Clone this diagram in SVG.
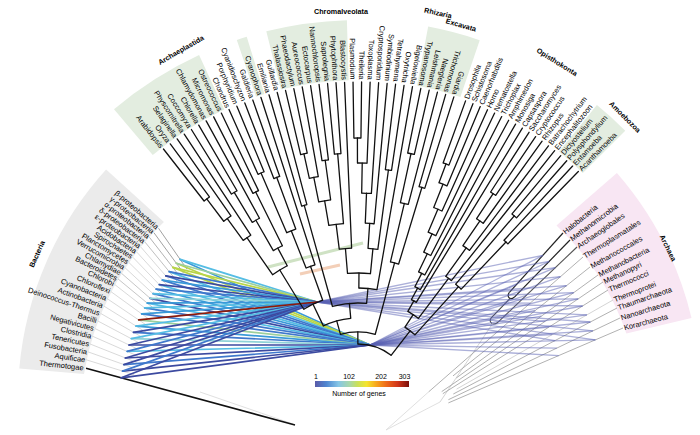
<svg xmlns="http://www.w3.org/2000/svg" width="700" height="435" viewBox="0 0 700 435">
<defs>
<style>
text{font-family:"Liberation Sans",Arial,sans-serif;font-size:7.5px;fill:#000}
.grp{font-weight:bold;font-size:7.2px;text-anchor:middle}
.te{text-anchor:end}
.tree line{stroke:#111;stroke-width:1.3;stroke-linecap:round}
.tree circle{fill:none;stroke:#111;stroke-width:1.3}
.shg{fill:none;stroke:#e3ede0;stroke-width:60}
.bl line{stroke:#cfcfcf;stroke-width:0.8}
.al line{stroke:#a8a8a8;stroke-width:0.9}
.ar line{stroke:#5a62b3;stroke-opacity:0.5;stroke-width:1.3}
.bc line{stroke-width:1.7;stroke-linecap:round}
</style>
<linearGradient id="cb" x1="0" y1="0" x2="1" y2="0">
<stop offset="0" stop-color="#5a5aa8"/><stop offset="0.12" stop-color="#4f86d0"/><stop offset="0.25" stop-color="#86c6e6"/><stop offset="0.37" stop-color="#a8d8a8"/><stop offset="0.45" stop-color="#c9e05a"/><stop offset="0.55" stop-color="#f5e52e"/><stop offset="0.65" stop-color="#f7a81e"/><stop offset="0.76" stop-color="#ee6a1a"/><stop offset="0.88" stop-color="#d1361a"/><stop offset="1" stop-color="#7a0f0a"/>
</linearGradient>
</defs>
<rect width="700" height="435" fill="#fff"/>

<g id="shading">
<path d="M163.9,222 L106.1,169.6 A340 340 0 0 0 19.3,368.4 L84,374 A270 270 0 0 1 163.9,222 Z" fill="#ebebeb"/>
<path d="M556.5,225.4 L616.9,173 A343 343 0 0 1 691.5,317.9 L626.4,333.6 A270 270 0 0 0 556.5,225.4 Z" fill="#f8e6f3"/>
<g transform="translate(358 398)" class="shg">
<circle r="348" stroke-dasharray="93.17 3000" transform="rotate(-130.2)"/>
<circle r="348" stroke-dasharray="9.72 3000" transform="rotate(-108.7)"/>
<circle r="348" stroke-dasharray="75.13 3000" transform="rotate(-104.04)"/>
<circle r="348" stroke-dasharray="49.2 3000" transform="rotate(-79.3)"/>
<circle r="348" stroke-dasharray="35.23 3000" transform="rotate(-50.8)"/>
</g>
</g>

<g id="bacteria-tree" class="bl">
<line x1="158.5" y1="228.2" x2="187" y2="269.3" style="stroke:#8a8a8a"/>
<line x1="153.9" y1="232.7" x2="183.5" y2="273" style="stroke:#8a8a8a"/>
<line x1="149.5" y1="237.4" x2="180.2" y2="276.9" style="stroke:#a0a0a0"/>
<line x1="145.1" y1="242.2" x2="176.8" y2="280.9" style="stroke:#b0b0b0"/>
<line x1="140.9" y1="247.1" x2="173.6" y2="284.9"/>
<line x1="136.8" y1="252.1" x2="170.6" y2="289"/>
<line x1="132.9" y1="257.3" x2="167.7" y2="293.3"/>
<line x1="129" y1="262.6" x2="164.8" y2="297.6"/>
<line x1="125.2" y1="267.9" x2="161.9" y2="301.9"/>
<line x1="121.5" y1="273.3" x2="159.2" y2="306.2" style="stroke:#b8b8b8"/>
<line x1="118" y1="278.9" x2="156.6" y2="310.8" style="stroke:#b8b8b8"/>
<line x1="114.7" y1="284.5" x2="154.2" y2="315.3"/>
<line x1="110.9" y1="291.6" x2="151.4" y2="320.9"/>
<line x1="107.2" y1="298.7" x2="148.7" y2="326.6"/>
<line x1="103.8" y1="306" x2="146.3" y2="332.4"/>
<line x1="100.6" y1="313.4" x2="144" y2="338.3"/>
<line x1="97.7" y1="320.9" x2="141.9" y2="344.3"/>
<line x1="94.9" y1="328.5" x2="139.9" y2="350.2"/>
<line x1="92.4" y1="336.2" x2="138.2" y2="356.3"/>
<line x1="90.1" y1="344" x2="136.6" y2="362.4"/>
<line x1="88.1" y1="351.9" x2="135.3" y2="368.6"/>
<line x1="86.3" y1="359.8" x2="134.1" y2="374.7"/>
<line x1="200" y1="392" x2="293" y2="424" style="stroke:#d8d8d8"/>
<line x1="86" y1="368.2" x2="295" y2="425" style="stroke:#111;stroke-width:1.6"/>
</g>

<g id="archaea-tree" class="al">
<line x1="563" y1="233" x2="509.4" y2="292.4" style="stroke:#222;stroke-width:1.2"/>
<line x1="570" y1="240" x2="514.2" y2="297.3" style="stroke:#222;stroke-width:1.2"/>
<path d="M509.4,292.4 C506.5,296 509.5,301 514.2,297.3" fill="none" stroke="#222" stroke-width="1.2"/>
<line x1="510.5" y1="298" x2="491.2" y2="317.8" style="stroke:#444;stroke-width:1.1"/>
<line x1="577" y1="247" x2="498.1" y2="322.2" style="stroke:#555;stroke-width:1.1"/>
<path d="M491.2,317.8 C488.5,322 492.5,326.5 498.1,322.2" fill="none" stroke="#555" stroke-width="1.1"/>
<line x1="493" y1="323" x2="440" y2="402" style="stroke:#cfcfcf"/>
<line x1="583" y1="257" x2="428.6" y2="391.9"/>
<line x1="590" y1="267" x2="453" y2="375.9"/>
<line x1="598" y1="275" x2="456.4" y2="377.9"/>
<line x1="603" y1="282" x2="441.7" y2="391.6"/>
<line x1="608" y1="290" x2="442.8" y2="393.7"/>
<line x1="613" y1="300" x2="456.6" y2="389.1" style="stroke:#cfcfcf"/>
<line x1="617" y1="308" x2="453.3" y2="394"/>
<line x1="620" y1="318" x2="448.4" y2="399.7"/>
<line x1="623" y1="328" x2="448.4" y2="402.9"/>
<line x1="440" y1="402" x2="386" y2="430" style="stroke:#dcdcdc"/>
<line x1="428.6" y1="391.9" x2="386" y2="430" style="stroke:#dcdcdc"/>
</g>

<g id="transfer-bars">
<line x1="268" y1="267" x2="363" y2="243" stroke="#cfe2c4" stroke-width="3"/>
<line x1="300" y1="274" x2="340" y2="265" stroke="#f3cfb8" stroke-width="3"/>
</g>

<g id="connectors">
<g id="archaea-links" class="ar">
<line x1="542.9" y1="255.3" x2="370" y2="345"/><line x1="542.9" y1="255.3" x2="317" y2="302"/>
<line x1="549.1" y1="261.5" x2="370" y2="345"/><line x1="549.1" y1="261.5" x2="317" y2="302"/>
<line x1="555.3" y1="267.7" x2="370" y2="345"/><line x1="555.3" y1="267.7" x2="317" y2="302"/>
<line x1="560.4" y1="276.7" x2="370" y2="345"/><line x1="560.4" y1="276.7" x2="317" y2="302"/>
<line x1="566.5" y1="285.7" x2="370" y2="345"/><line x1="566.5" y1="285.7" x2="317" y2="302"/>
<line x1="573.7" y1="292.6" x2="370" y2="345"/><line x1="573.7" y1="292.6" x2="317" y2="302"/>
<line x1="578.2" y1="298.9" x2="370" y2="345"/><line x1="578.2" y1="298.9" x2="317" y2="302"/>
<line x1="582.6" y1="306" x2="370" y2="345"/><line x1="582.6" y1="306" x2="317" y2="302"/>
<line x1="586.9" y1="314.9" x2="370" y2="345"/><line x1="586.9" y1="314.9" x2="317" y2="302"/>
<line x1="590.4" y1="322" x2="370" y2="345"/><line x1="590.4" y1="322" x2="317" y2="302"/>
<line x1="592.9" y1="330.9" x2="370" y2="345"/><line x1="592.9" y1="330.9" x2="317" y2="302"/>
<line x1="595.4" y1="339.8" x2="370" y2="345"/><line x1="595.4" y1="339.8" x2="317" y2="302"/>
<line x1="516.1" y1="284.9" x2="370" y2="345"/><line x1="521.1" y1="290.1" x2="317" y2="302"/>
<line x1="526.3" y1="295.3" x2="370" y2="345"/><line x1="530.3" y1="303.1" x2="317" y2="302"/>
<line x1="535.2" y1="310.5" x2="370" y2="345"/><line x1="541.4" y1="316.2" x2="370" y2="345"/>
<line x1="545.1" y1="321.3" x2="317" y2="302"/><line x1="548.7" y1="327.2" x2="370" y2="345"/>
<line x1="552.2" y1="334.7" x2="370" y2="345"/><line x1="555" y1="340.6" x2="317" y2="302"/>
<line x1="556.8" y1="348.1" x2="370" y2="345"/><line x1="558.7" y1="355.6" x2="370" y2="345"/>
</g>
<g id="bacteria-links" class="bc">
<line x1="180.2" y1="259.4" x2="370" y2="345" stroke="#3a9ad8"/>
<line x1="176.4" y1="263.3" x2="370" y2="345" stroke="#b9d548"/>
<line x1="172.8" y1="267.4" x2="370" y2="345" stroke="#b9d548"/>
<line x1="169.2" y1="271.6" x2="370" y2="345" stroke="#55bde4"/>
<line x1="165.8" y1="275.8" x2="370" y2="345" stroke="#3f78cc"/>
<line x1="162.4" y1="280.1" x2="370" y2="345" stroke="#3f78cc"/>
<line x1="159.3" y1="284.6" x2="370" y2="345" stroke="#55bde4"/>
<line x1="156.2" y1="289.2" x2="370" y2="345" stroke="#3a9ad8"/>
<line x1="153.1" y1="293.7" x2="370" y2="345" stroke="#3f78cc"/>
<line x1="150.1" y1="298.3" x2="370" y2="345" stroke="#3c4aa0"/>
<line x1="147.3" y1="303.1" x2="370" y2="345" stroke="#55bde4"/>
<line x1="144.7" y1="307.9" x2="370" y2="345" stroke="#3f78cc"/>
<line x1="141.7" y1="313.9" x2="370" y2="345" stroke="#3f78cc"/>
<line x1="138.7" y1="319.9" x2="370" y2="345" stroke="#9ccf9c"/>
<line x1="136.1" y1="326.1" x2="370" y2="345" stroke="#3a9ad8"/>
<line x1="133.5" y1="332.3" x2="370" y2="345" stroke="#3f78cc"/>
<line x1="131.3" y1="338.6" x2="370" y2="345" stroke="#8fd2d8"/>
<line x1="129.1" y1="345" x2="370" y2="345" stroke="#3c4aa0"/>
<line x1="127.2" y1="351.4" x2="370" y2="345" stroke="#55bde4"/>
<line x1="125.4" y1="358" x2="370" y2="345" stroke="#3c4aa0"/>
<line x1="123.9" y1="364.6" x2="370" y2="345" stroke="#3f78cc"/>
<line x1="122.6" y1="371.1" x2="370" y2="345" stroke="#3c4aa0"/>
<line x1="121.3" y1="377.8" x2="370" y2="345" stroke="#3c4aa0"/>
<line x1="180.2" y1="259.4" x2="317" y2="302" stroke="#55bde4"/>
<line x1="176.4" y1="263.3" x2="317" y2="302" stroke="#9ccf9c"/>
<line x1="172.8" y1="267.4" x2="317" y2="302" stroke="#b9d548"/>
<line x1="169.2" y1="271.6" x2="317" y2="302" stroke="#3f78cc"/>
<line x1="165.8" y1="275.8" x2="317" y2="302" stroke="#3c4aa0"/>
<line x1="162.4" y1="280.1" x2="317" y2="302" stroke="#3a9ad8"/>
<line x1="159.3" y1="284.6" x2="317" y2="302" stroke="#3c4aa0"/>
<line x1="156.2" y1="289.2" x2="317" y2="302" stroke="#3f78cc"/>
<line x1="153.1" y1="293.7" x2="317" y2="302" stroke="#55bde4"/>
<line x1="150.1" y1="298.3" x2="317" y2="302" stroke="#8fd2d8"/>
<line x1="147.3" y1="303.1" x2="317" y2="302" stroke="#3a9ad8"/>
<line x1="144.7" y1="307.9" x2="317" y2="302" stroke="#55bde4"/>
<line x1="141.7" y1="313.9" x2="317" y2="302" stroke="#3a9ad8"/>
<line x1="136.1" y1="326.1" x2="317" y2="302" stroke="#55bde4"/>
<line x1="133.5" y1="332.3" x2="317" y2="302" stroke="#3c4aa0"/>
<line x1="131.3" y1="338.6" x2="317" y2="302" stroke="#55bde4"/>
<line x1="129.1" y1="345" x2="317" y2="302" stroke="#3c4aa0"/>
<line x1="127.2" y1="351.4" x2="317" y2="302" stroke="#3f78cc"/>
<line x1="125.4" y1="358" x2="317" y2="302" stroke="#3c4aa0"/>
<line x1="123.9" y1="364.6" x2="317" y2="302" stroke="#3c4aa0"/>
<line x1="122.6" y1="371.1" x2="317" y2="302" stroke="#3f78cc"/>
<line x1="121.3" y1="377.8" x2="317" y2="302" stroke="#3c4aa0"/>
<line x1="138.7" y1="319.9" x2="317" y2="302" stroke="#8b1a0c" stroke-width="2"/>
</g>
</g>

<g id="eukaryotes" class="tree" transform="translate(358 398)">
<g id="euk-internal">
<line x1="222" x2="250" transform="rotate(-127.23)"/>
<line x1="195" x2="222" transform="rotate(-126.07)"/>
<line x1="150" x2="195" transform="rotate(-124.72)"/>
<line x1="205" x2="240" transform="rotate(-121.05)"/>
<line x1="170" x2="205" transform="rotate(-119.88)"/>
<line x1="170" x2="230" transform="rotate(-116.41)"/>
<line x1="150" x2="170" transform="rotate(-118.15)"/>
<line x1="104" x2="150" transform="rotate(-121.44)"/>
<line x1="180" x2="245" transform="rotate(-113.32)"/>
<line x1="180" x2="235" transform="rotate(-110.22)"/>
<line x1="140" x2="180" transform="rotate(-111.77)"/>
<line x1="104" x2="140" transform="rotate(-109.84)"/>
<line x1="80" x2="104" transform="rotate(-115.64)"/>
<line x1="95" x2="200" transform="rotate(-105.59)"/>
<line x1="225" x2="250" transform="rotate(-102.49)"/>
<line x1="200" x2="225" transform="rotate(-101.33)"/>
<line x1="200" x2="240" transform="rotate(-97.86)"/>
<line x1="175" x2="200" transform="rotate(-99.6)"/>
<line x1="175" x2="245" transform="rotate(-94.76)"/>
<line x1="150" x2="175" transform="rotate(-97.18)"/>
<line x1="125" x2="150" transform="rotate(-94.81)"/>
<line x1="235" x2="260" transform="rotate(-90.13)"/>
<line x1="205" x2="235" transform="rotate(-88.97)"/>
<line x1="175" x2="205" transform="rotate(-87.62)"/>
<line x1="150" x2="230" transform="rotate(-82.4)"/>
<line x1="150" x2="175" transform="rotate(-86.17)"/>
<line x1="125" x2="150" transform="rotate(-84.29)"/>
<line x1="110" x2="125" transform="rotate(-89.55)"/>
<line x1="95" x2="110" transform="rotate(-84.81)"/>
<line x1="80" x2="95" transform="rotate(-95.2)"/>
<line x1="200" x2="250" transform="rotate(-77.76)"/>
<line x1="140" x2="200" transform="rotate(-76.6)"/>
<line x1="140" x2="220" transform="rotate(-73.12)"/>
<line x1="66" x2="140" transform="rotate(-74.86)"/>
<line x1="66" x2="80" transform="rotate(-105.42)"/>
<line x1="54" x2="66" transform="rotate(-90.14)"/>
<line x1="230" x2="250" transform="rotate(-69.39)"/>
<line x1="205" x2="230" transform="rotate(-68.32)"/>
<line x1="180" x2="205" transform="rotate(-67.07)"/>
<line x1="160" x2="180" transform="rotate(-65.73)"/>
<line x1="140" x2="160" transform="rotate(-64.34)"/>
<line x1="125" x2="140" transform="rotate(-62.93)"/>
<line x1="112" x2="125" transform="rotate(-61.51)"/>
<line x1="100" x2="112" transform="rotate(-60.09)"/>
<line x1="215" x2="245" transform="rotate(-56.52)"/>
<line x1="185" x2="215" transform="rotate(-55.45)"/>
<line x1="150" x2="185" transform="rotate(-54.2)"/>
<line x1="100" x2="150" transform="rotate(-52.86)"/>
<line x1="85" x2="100" transform="rotate(-56.48)"/>
<line x1="150" x2="240" transform="rotate(-49.37)"/>
<line x1="150" x2="215" transform="rotate(-46.51)"/>
<line x1="85" x2="150" transform="rotate(-47.94)"/>
<line x1="54" x2="85" transform="rotate(-52.21)"/>
<circle r="250" stroke-dasharray="6.76 3000" transform="rotate(-128)"/>
<circle r="222" stroke-dasharray="8.99 3000" transform="rotate(-127.23)"/>
<circle r="195" stroke-dasharray="9.22 3000" transform="rotate(-126.07)"/>
<circle r="240" stroke-dasharray="6.49 3000" transform="rotate(-121.82)"/>
<circle r="205" stroke-dasharray="8.34 3000" transform="rotate(-121.05)"/>
<circle r="230" stroke-dasharray="6.22 3000" transform="rotate(-117.18)"/>
<circle r="170" stroke-dasharray="10.3 3000" transform="rotate(-119.88)"/>
<circle r="150" stroke-dasharray="17.2 3000" transform="rotate(-124.72)"/>
<circle r="245" stroke-dasharray="6.63 3000" transform="rotate(-114.09)"/>
<circle r="235" stroke-dasharray="6.32 3000" transform="rotate(-110.99)"/>
<circle r="180" stroke-dasharray="9.74 3000" transform="rotate(-113.32)"/>
<circle r="140" stroke-dasharray="9.46 3000" transform="rotate(-111.77)"/>
<circle r="104" stroke-dasharray="21.06 3000" transform="rotate(-121.44)"/>
<circle r="200" stroke-dasharray="5.41 3000" transform="rotate(-106.36)"/>
<circle r="250" stroke-dasharray="6.72 3000" transform="rotate(-103.26)"/>
<circle r="225" stroke-dasharray="9.11 3000" transform="rotate(-102.49)"/>
<circle r="240" stroke-dasharray="6.49 3000" transform="rotate(-98.63)"/>
<circle r="200" stroke-dasharray="12.11 3000" transform="rotate(-101.33)"/>
<circle r="245" stroke-dasharray="6.59 3000" transform="rotate(-95.53)"/>
<circle r="175" stroke-dasharray="14.78 3000" transform="rotate(-99.6)"/>
<circle r="150" stroke-dasharray="12.41 3000" transform="rotate(-97.18)"/>
<circle r="260" stroke-dasharray="7.03 3000" transform="rotate(-90.9)"/>
<circle r="235" stroke-dasharray="9.56 3000" transform="rotate(-90.13)"/>
<circle r="205" stroke-dasharray="9.7 3000" transform="rotate(-88.97)"/>
<circle r="230" stroke-dasharray="6.22 3000" transform="rotate(-83.17)"/>
<circle r="175" stroke-dasharray="8.89 3000" transform="rotate(-87.62)"/>
<circle r="150" stroke-dasharray="9.87 3000" transform="rotate(-86.17)"/>
<circle r="125" stroke-dasharray="22.95 3000" transform="rotate(-94.81)"/>
<circle r="110" stroke-dasharray="18.2 3000" transform="rotate(-89.55)"/>
<circle r="95" stroke-dasharray="34.45 3000" transform="rotate(-105.59)"/>
<circle r="250" stroke-dasharray="6.76 3000" transform="rotate(-78.53)"/>
<circle r="200" stroke-dasharray="8.1 3000" transform="rotate(-77.76)"/>
<circle r="220" stroke-dasharray="5.95 3000" transform="rotate(-73.89)"/>
<circle r="140" stroke-dasharray="8.5 3000" transform="rotate(-76.6)"/>
<circle r="80" stroke-dasharray="28.54 3000" transform="rotate(-115.64)"/>
<circle r="66" stroke-dasharray="35.2 3000" transform="rotate(-105.42)"/>
<circle r="250" stroke-dasharray="6.24 3000" transform="rotate(-70.1)"/>
<circle r="230" stroke-dasharray="8.63 3000" transform="rotate(-69.39)"/>
<circle r="205" stroke-dasharray="8.98 3000" transform="rotate(-68.32)"/>
<circle r="180" stroke-dasharray="8.45 3000" transform="rotate(-67.07)"/>
<circle r="160" stroke-dasharray="7.76 3000" transform="rotate(-65.73)"/>
<circle r="140" stroke-dasharray="6.89 3000" transform="rotate(-64.34)"/>
<circle r="125" stroke-dasharray="6.2 3000" transform="rotate(-62.93)"/>
<circle r="112" stroke-dasharray="5.57 3000" transform="rotate(-61.51)"/>
<circle r="245" stroke-dasharray="6.11 3000" transform="rotate(-57.23)"/>
<circle r="215" stroke-dasharray="8.07 3000" transform="rotate(-56.52)"/>
<circle r="185" stroke-dasharray="8.1 3000" transform="rotate(-55.45)"/>
<circle r="150" stroke-dasharray="7.04 3000" transform="rotate(-54.2)"/>
<circle r="100" stroke-dasharray="12.62 3000" transform="rotate(-60.09)"/>
<circle r="240" stroke-dasharray="5.99 3000" transform="rotate(-50.08)"/>
<circle r="215" stroke-dasharray="5.37 3000" transform="rotate(-47.22)"/>
<circle r="150" stroke-dasharray="7.49 3000" transform="rotate(-49.37)"/>
<circle r="85" stroke-dasharray="12.67 3000" transform="rotate(-56.48)"/>
<circle r="54" stroke-dasharray="35.75 3000" transform="rotate(-90.14)"/>
</g>
<g id="leaf-arabidopsis" transform="rotate(-128)"><line x1="250" x2="316"/><text class="te" transform="rotate(180)" x="-318.5" y="2.7">Arabidopsis</text></g>
<g id="leaf-oryza" transform="rotate(-126.45)"><line x1="250" x2="316"/><text class="te" transform="rotate(180)" x="-318.5" y="2.7">Oryza</text></g>
<g id="leaf-selaginella" transform="rotate(-124.91)"><line x1="222" x2="316"/><text class="te" transform="rotate(180)" x="-318.5" y="2.7">Selaginella</text></g>
<g id="leaf-physcomitrella" transform="rotate(-123.36)"><line x1="195" x2="316"/><text class="te" transform="rotate(180)" x="-318.5" y="2.7">Physcomitrella</text></g>
<g id="leaf-coccomyxa" transform="rotate(-121.82)"><line x1="240" x2="316"/><text class="te" transform="rotate(180)" x="-318.5" y="2.7">Coccomyxa</text></g>
<g id="leaf-chlorella" transform="rotate(-120.27)"><line x1="240" x2="316"/><text class="te" transform="rotate(180)" x="-318.5" y="2.7">Chlorella</text></g>
<g id="leaf-chlamydomonas" transform="rotate(-118.72)"><line x1="205" x2="316"/><text class="te" transform="rotate(180)" x="-318.5" y="2.7">Chlamydomonas</text></g>
<g id="leaf-micromonas" transform="rotate(-117.18)"><line x1="230" x2="316"/><text class="te" transform="rotate(180)" x="-318.5" y="2.7">Micromonas</text></g>
<g id="leaf-ostreococcus" transform="rotate(-115.63)"><line x1="230" x2="316"/><text class="te" transform="rotate(180)" x="-318.5" y="2.7">Ostreococcus</text></g>
<g id="leaf-chondrus" transform="rotate(-114.09)"><line x1="245" x2="316"/><text class="te" transform="rotate(180)" x="-318.5" y="2.7">Chondrus</text></g>
<g id="leaf-porphyridium" transform="rotate(-112.54)"><line x1="245" x2="316"/><text class="te" transform="rotate(180)" x="-318.5" y="2.7">Porphyridium</text></g>
<g id="leaf-cyanidioschyzon" transform="rotate(-110.99)"><line x1="235" x2="316"/><text class="te" transform="rotate(180)" x="-318.5" y="2.7">Cyanidioschyzon</text></g>
<g id="leaf-galdieria" transform="rotate(-109.45)"><line x1="235" x2="316"/><text class="te" transform="rotate(180)" x="-318.5" y="2.7">Galdieria</text></g>
<g id="leaf-cyanophora" transform="rotate(-107.9)"><line x1="140" x2="316"/><text class="te" transform="rotate(180)" x="-318.5" y="2.7">Cyanophora</text></g>
<g id="leaf-emiliania" transform="rotate(-106.36)"><line x1="200" x2="316"/><text class="te" transform="rotate(180)" x="-318.5" y="2.7">Emiliania</text></g>
<g id="leaf-guillardia" transform="rotate(-104.81)"><line x1="200" x2="316"/><text class="te" transform="rotate(180)" x="-318.5" y="2.7">Guillardia</text></g>
<g id="leaf-thalassiosira" transform="rotate(-103.26)"><line x1="250" x2="316"/><text class="te" transform="rotate(180)" x="-318.5" y="2.7">Thalassiosira</text></g>
<g id="leaf-phaeodactylum" transform="rotate(-101.72)"><line x1="250" x2="316"/><text class="te" transform="rotate(180)" x="-318.5" y="2.7">Phaeodactylum</text></g>
<g id="leaf-aureococcus" transform="rotate(-100.17)"><line x1="225" x2="316"/><text class="te" transform="rotate(180)" x="-318.5" y="2.7">Aureococcus</text></g>
<g id="leaf-ectocarpus" transform="rotate(-98.63)"><line x1="240" x2="316"/><text class="te" transform="rotate(180)" x="-318.5" y="2.7">Ectocarpus</text></g>
<g id="leaf-nannochloropsis" transform="rotate(-97.08)"><line x1="240" x2="316"/><text class="te" transform="rotate(180)" x="-318.5" y="2.7">Nannochloropsis</text></g>
<g id="leaf-saprolegnia" transform="rotate(-95.53)"><line x1="245" x2="316"/><text class="te" transform="rotate(180)" x="-318.5" y="2.7">Saprolegnia</text></g>
<g id="leaf-phytophthora" transform="rotate(-93.99)"><line x1="245" x2="316"/><text class="te" transform="rotate(180)" x="-318.5" y="2.7">Phytophthora</text></g>
<g id="leaf-blastocystis" transform="rotate(-92.44)"><line x1="150" x2="316"/><text class="te" transform="rotate(180)" x="-318.5" y="2.7">Blastocystis</text></g>
<g id="leaf-plasmodium" transform="rotate(-90.9)"><line x1="260" x2="316"/><text class="te" transform="rotate(180)" x="-318.5" y="2.7">Plasmodium</text></g>
<g id="leaf-theileria" transform="rotate(-89.35)"><line x1="260" x2="316"/><text class="te" transform="rotate(180)" x="-318.5" y="2.7">Theileria</text></g>
<g id="leaf-toxoplasma" transform="rotate(-87.8)"><line x1="235" x2="316"/><text class="te" transform="rotate(180)" x="-318.5" y="2.7">Toxoplasma</text></g>
<g id="leaf-cryptosporidium" transform="rotate(-86.26)"><line x1="205" x2="316"/><text class="te" transform="rotate(180)" x="-318.5" y="2.7">Cryptosporidium</text></g>
<g id="leaf-symbiodinium" transform="rotate(-84.71)"><line x1="175" x2="316"/><text class="te" transform="rotate(180)" x="-318.5" y="2.7">Symbiodinium</text></g>
<g id="leaf-tetrahymena" transform="rotate(-83.17)"><line x1="230" x2="316"/><text class="te" transform="rotate(180)" x="-318.5" y="2.7">Tetrahymena</text></g>
<g id="leaf-oxytricha" transform="rotate(-81.62)"><line x1="230" x2="316"/><text class="te" transform="rotate(180)" x="-318.5" y="2.7">Oxytricha</text></g>
<g id="leaf-bigelowiella" transform="rotate(-80.07)"><line x1="110" x2="316"/><text class="te" transform="rotate(180)" x="-318.5" y="2.7">Bigelowiella</text></g>
<g id="leaf-trypanosoma" transform="rotate(-78.53)"><line x1="250" x2="316"/><text class="te" transform="rotate(180)" x="-318.5" y="2.7">Trypanosoma</text></g>
<g id="leaf-leishmania" transform="rotate(-76.98)"><line x1="250" x2="316"/><text class="te" transform="rotate(180)" x="-318.5" y="2.7">Leishmania</text></g>
<g id="leaf-naegleria" transform="rotate(-75.44)"><line x1="200" x2="316"/><text class="te" transform="rotate(180)" x="-318.5" y="2.7">Naegleria</text></g>
<g id="leaf-trichomonas" transform="rotate(-73.89)"><line x1="220" x2="316"/><text class="te" transform="rotate(180)" x="-318.5" y="2.7">Trichomonas</text></g>
<g id="leaf-giardia" transform="rotate(-72.34)"><line x1="220" x2="316"/><text class="te" transform="rotate(180)" x="-318.5" y="2.7">Giardia</text></g>
<g id="leaf-drosophila" transform="rotate(-70.1)"><line x1="250" x2="316"/><text x="318.5" y="2.7">Drosophila</text></g>
<g id="leaf-schistosoma" transform="rotate(-68.67)"><line x1="250" x2="316"/><text x="318.5" y="2.7">Schistosoma</text></g>
<g id="leaf-caenorhabditis" transform="rotate(-67.24)"><line x1="230" x2="316"/><text x="318.5" y="2.7">Caenorhabditis</text></g>
<g id="leaf-homo" transform="rotate(-65.81)"><line x1="205" x2="316"/><text x="318.5" y="2.7">Homo</text></g>
<g id="leaf-nematostella" transform="rotate(-64.38)"><line x1="180" x2="316"/><text x="318.5" y="2.7">Nematostella</text></g>
<g id="leaf-trichoplax" transform="rotate(-62.95)"><line x1="160" x2="316"/><text x="318.5" y="2.7">Trichoplax</text></g>
<g id="leaf-amphimedon" transform="rotate(-61.52)"><line x1="140" x2="316"/><text x="318.5" y="2.7">Amphimedon</text></g>
<g id="leaf-monosiga" transform="rotate(-60.09)"><line x1="125" x2="316"/><text x="318.5" y="2.7">Monosiga</text></g>
<g id="leaf-capsaspora" transform="rotate(-58.66)"><line x1="112" x2="316"/><text x="318.5" y="2.7">Capsaspora</text></g>
<g id="leaf-saccharomyces" transform="rotate(-57.23)"><line x1="245" x2="316"/><text x="318.5" y="2.7">Saccharomyces</text></g>
<g id="leaf-cryptococcus" transform="rotate(-55.8)"><line x1="245" x2="316"/><text x="318.5" y="2.7">Cryptococcus</text></g>
<g id="leaf-rhizopus" transform="rotate(-54.37)"><line x1="215" x2="316"/><text x="318.5" y="2.7">Rhizopus</text></g>
<g id="leaf-batrachochytrium" transform="rotate(-52.94)"><line x1="185" x2="316"/><text x="318.5" y="2.7">Batrachochytrium</text></g>
<g id="leaf-encephalitozoon" transform="rotate(-51.51)"><line x1="150" x2="316"/><text x="318.5" y="2.7">Encephalitozoon</text></g>
<g id="leaf-dictyostelium" transform="rotate(-50.08)"><line x1="240" x2="316"/><text x="318.5" y="2.7">Dictyostelium</text></g>
<g id="leaf-polysphondylium" transform="rotate(-48.65)"><line x1="240" x2="316"/><text x="318.5" y="2.7">Polysphondylium</text></g>
<g id="leaf-entamoeba" transform="rotate(-47.22)"><line x1="215" x2="316"/><text x="318.5" y="2.7">Entamoeba</text></g>
<g id="leaf-acanthamoeba" transform="rotate(-45.79)"><line x1="215" x2="316"/><text x="318.5" y="2.7">Acanthamoeba</text></g>
</g>

<g id="bacteria-labels" class="te">
<text transform="translate(158.5 228.2) rotate(40.4)" x="-1" y="2.7">β-proteobacteria</text>
<text transform="translate(153.9 232.7) rotate(39)" x="-1" y="2.7">γ-proteobacteria</text>
<text transform="translate(149.5 237.4) rotate(37.6)" x="-1" y="2.7">α-proteobacteria</text>
<text transform="translate(145.1 242.2) rotate(36.2)" x="-1" y="2.7">δ-proteobacteria</text>
<text transform="translate(140.9 247.1) rotate(34.8)" x="-1" y="2.7">ε-proteobacteria</text>
<text transform="translate(136.8 252.1) rotate(33.4)" x="-1" y="2.7">Acidobacteria</text>
<text transform="translate(132.9 257.3) rotate(32)" x="-1" y="2.7">Spirochaetes</text>
<text transform="translate(129 262.6) rotate(30.6)" x="-1" y="2.7">Planctomycetes</text>
<text transform="translate(125.2 267.9) rotate(29.2)" x="-1" y="2.7">Verrucomicrobia</text>
<text transform="translate(121.5 273.3) rotate(27.8)" x="-1" y="2.7">Chlamydiae</text>
<text transform="translate(118 278.9) rotate(26.4)" x="-1" y="2.7">Bacteroidetes</text>
<text transform="translate(114.7 284.5) rotate(25)" x="-1" y="2.7">Chlorobi</text>
<text transform="translate(110.9 291.6) rotate(23.3)" x="-1" y="2.7">Chloroflexi</text>
<text transform="translate(107.2 298.7) rotate(21.6)" x="-1" y="2.7">Cyanobacteria</text>
<text transform="translate(103.8 306) rotate(19.9)" x="-1" y="2.7">Actinobacteria</text>
<text transform="translate(100.6 313.4) rotate(18.2)" x="-1" y="2.7">Deinococcus-Thermus</text>
<text transform="translate(97.7 320.9) rotate(16.5)" x="-1" y="2.7">Bacilli</text>
<text transform="translate(94.9 328.5) rotate(14.8)" x="-1" y="2.7">Negativicutes</text>
<text transform="translate(92.4 336.2) rotate(13.1)" x="-1" y="2.7">Clostridia</text>
<text transform="translate(90.1 344) rotate(11.4)" x="-1" y="2.7">Tenericutes</text>
<text transform="translate(88.1 351.9) rotate(9.7)" x="-1" y="2.7">Fusobacteria</text>
<text transform="translate(86.3 359.8) rotate(8)" x="-1" y="2.7">Aquificae</text>
<text transform="translate(84.6 367.8) rotate(6.3)" x="-1" y="2.7">Thermotogae</text>
</g>

<g id="archaea-labels">
<text transform="translate(563 233) rotate(-38.8)" x="1" y="2.7">Halobacteria</text>
<text transform="translate(570 240) rotate(-36.7)" x="1" y="2.7">Methanomicrobia</text>
<text transform="translate(577 247) rotate(-34.6)" x="1" y="2.7">Archaeoglobales</text>
<text transform="translate(583 257) rotate(-32.1)" x="1" y="2.7">Thermoplasmatales</text>
<text transform="translate(590 267) rotate(-29.5)" x="1" y="2.7">Methanococcales</text>
<text transform="translate(598 275) rotate(-27.1)" x="1" y="2.7">Methanobacteria</text>
<text transform="translate(603 282) rotate(-25.3)" x="1" y="2.7">Methanopyri</text>
<text transform="translate(608 290) rotate(-23.4)" x="1" y="2.7">Thermococci</text>
<text transform="translate(613 300) rotate(-21)" x="1" y="2.7">Thermoprotei</text>
<text transform="translate(617 308) rotate(-19.2)" x="1" y="2.7">Thaumarchaeota</text>
<text transform="translate(620 318) rotate(-17)" x="1" y="2.7">Nanoarchaeota</text>
<text transform="translate(623 328) rotate(-14.8)" x="1" y="2.7">Korarchaeota</text>
</g>

<g id="group-labels">
<text class="grp" transform="translate(181 50) rotate(-30)" y="2.5">Archaeplastida</text>
<text class="grp" transform="translate(341 11)" y="2.5">Chromalveolata</text>
<text class="grp" transform="translate(438 13) rotate(12)" y="2.5">Rhizaria</text>
<text class="grp" transform="translate(461 25) rotate(16)" y="2.5">Excavata</text>
<text class="grp" transform="translate(557 62) rotate(32)" y="2.5">Opisthokonta</text>
<text class="grp" transform="translate(625 117) rotate(45)" y="2.5">Amoebozoa</text>
<text class="grp" transform="translate(37 254) rotate(-66)" y="2.5">Bacteria</text>
<text class="grp" transform="translate(668 248) rotate(64)" y="2.5">Archaea</text>
</g>

<g id="legend">
<rect x="315" y="381" width="94" height="6" fill="url(#cb)"/>
<text x="316" y="379" text-anchor="middle" style="font-size:7px">1</text>
<text x="349" y="379" text-anchor="middle" style="font-size:7px">102</text>
<text x="381" y="379" text-anchor="middle" style="font-size:7px">202</text>
<text x="404.5" y="379" text-anchor="middle" style="font-size:7px">303</text>
<text x="359" y="396" text-anchor="middle" style="font-size:7px">Number of genes</text>
</g>
</svg>
